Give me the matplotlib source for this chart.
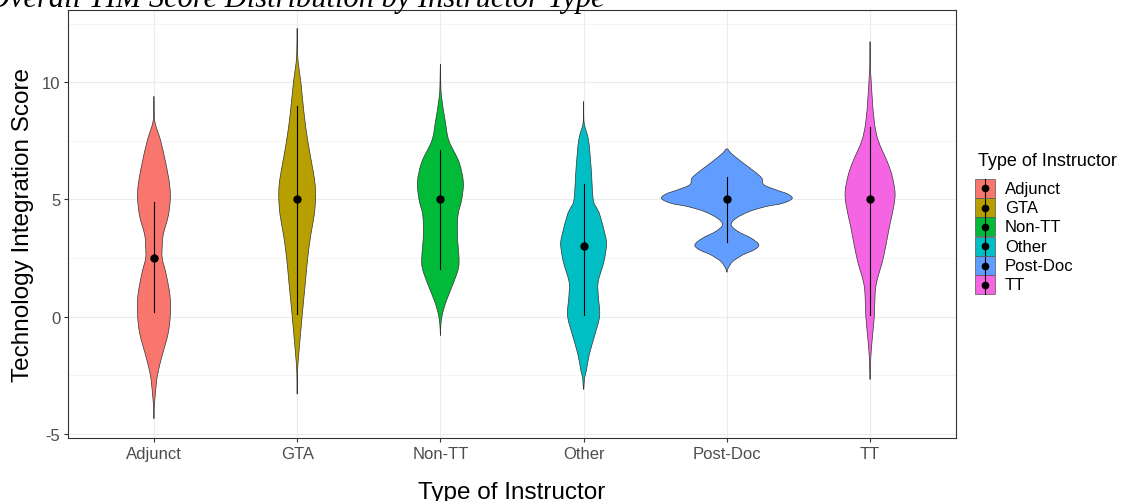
import numpy as np
import matplotlib.pyplot as plt
from matplotlib.path import Path
from matplotlib.patches import PathPatch, Rectangle
from matplotlib.lines import Line2D

plt.rcParams["font.family"] = ["Liberation Sans", "DejaVu Sans"]
plt.rcParams["axes.unicode_minus"] = False

instructor_types = ["Adjunct", "GTA", "Non-TT", "Other", "Post-Doc", "TT"]
fill_colors = ["#F8766D", "#B79F00", "#00BA38", "#00BFC4", "#619CFF", "#F564E3"]

# violin outlines: score level and half width (in category units), top to bottom
adjunct_y = [9.4, 8.9, 8.3, 7.5, 6.6, 6.0, 5.5, 5.0, 4.3, 3.5, 3.0, 2.5, 1.8, 0.9, 0.05, -0.75, -1.6, -2.45, -3.15, -3.9, -4.35]
adjunct_w = [0, .002, .007, .047, .081, .100, .112, .114, .100, .065, .058, .058, .086, .112, .114, .098, .060, .026, .012, .002, 0]

gta_y = [12.3, 11.5, 10.85, 10.0, 8.73, 7.5, 6.3, 5.6, 5.0, 4.33, 3.48, 2.52, 1.5, 0.05, -1.05, -1.9, -2.46, -3.3]
gta_w = [0, .002, .007, .026, .047, .074, .109, .126, .128, .119, .095, .074, .058, .035, .019, .007, .002, 0]

nontt_y = [10.78, 10.2, 9.43, 8.3, 7.5, 6.6, 5.75, 5.0, 4.33, 3.48, 2.52, 2.07, 1.5, 0.65, 0.05, -0.48, -0.8]
nontt_w = [0, .002, .007, .035, .060, .130, .160, .149, .123, .119, .130, .126, .095, .040, .012, .002, 0]

other_y = [9.18, 8.5, 8.16, 7.5, 6.3, 5.0, 4.62, 4.33, 3.48, 3.06, 2.35, 1.5, 0.93, 0.05, -0.76, -1.6, -2.3, -2.6, -3.1]
other_w = [0, .001, .007, .035, .053, .067, .093, .114, .151, .160, .142, .102, .102, .112, .079, .040, .019, .007, 0]

postdoc_y = [7.16, 6.97, 6.62, 6.19, 5.91, 5.63, 5.41, 5.23, 5.04, 4.84, 4.70, 4.49, 4.20, 3.92, 3.64, 3.35, 3.07, 2.86, 2.64, 2.36, 2.07, 1.90]
postdoc_w = [0, .030, .100, .193, .244, .258, .344, .426, .456, .391, .274, .158, .065, .030, .077, .170, .223, .193, .112, .042, .009, 0]

tt_y = [11.73, 10.7, 10.14, 9.43, 8.3, 7.5, 6.6, 6.03, 5.33, 4.76, 3.77, 2.52, 1.5, 0.93, 0.05, -0.9, -1.75, -2.68]
tt_w = [0, .002, .007, .014, .030, .058, .121, .153, .174, .167, .133, .093, .047, .035, .030, .016, .005, 0]

violin_y = [adjunct_y, gta_y, nontt_y, other_y, postdoc_y, tt_y]
violin_w = [adjunct_w, gta_w, nontt_w, other_w, postdoc_w, tt_w]

# summary point and range for each group
centre = [2.5, 5.0, 5.0, 3.0, 5.0, 5.0]
range_low = [0.2, 0.1, 2.05, 0.08, 3.2, 0.08]
range_high = [4.9, 9.0, 7.1, 5.65, 5.95, 8.1]


def smooth_outline(xs, ys):
    # closed Catmull-Rom curve through the outline points
    pts = np.column_stack([xs, ys])
    n = len(pts)
    verts = [pts[0]]
    codes = [Path.MOVETO]
    for i in range(n):
        p0 = pts[i - 1]
        p1 = pts[i]
        p2 = pts[(i + 1) % n]
        p3 = pts[(i + 2) % n]
        verts += [p1 + (p2 - p0) / 6, p2 - (p3 - p1) / 6, p2]
        codes += [Path.CURVE4] * 3
    return Path(verts, codes)


fig = plt.figure(figsize=(11.25, 5.02), dpi=100)
ax = fig.add_axes([68 / 1125, 1 - 439 / 502, 888 / 1125, 428 / 502])

for i, name in enumerate(instructor_types):
    ys = np.array(violin_y[i])
    ws = np.array(violin_w[i])
    xs_right = i + ws
    xs_left = i - ws
    out_x = np.concatenate([xs_right, xs_left[-2:0:-1]])
    out_y = np.concatenate([ys, ys[-2:0:-1]])
    patch = PathPatch(
        smooth_outline(out_x, out_y),
        facecolor=fill_colors[i],
        edgecolor="#333333",
        linewidth=0.5,
        zorder=2
    )
    ax.add_patch(patch)

    ax.plot([i, i], [range_low[i], range_high[i]], color="black", linewidth=0.8, zorder=3)
    ax.plot([i], [centre[i]], marker="o", color="black", markersize=5, zorder=4)

ax.set_xlim(-0.6, 5.6)
ax.set_ylim(-5.17, 13.08)
ax.set_xticks(range(len(instructor_types)))
ax.set_xticklabels(instructor_types)
ax.set_yticks([-5, 0, 5, 10])
ax.set_yticks([-2.5, 2.5, 7.5, 12.5], minor=True)

ax.grid(which="major", color="#EBEBEB", linewidth=0.8, zorder=0)
ax.grid(which="minor", axis="y", color="#F2F2F2", linewidth=0.6, zorder=0)
ax.set_axisbelow(True)

for spine in ax.spines.values():
    spine.set_color("#333333")
    spine.set_linewidth(0.8)

ax.tick_params(which="major", length=3, width=0.8, color="#333333", labelcolor="#4D4D4D", labelsize=12, pad=2.5)
ax.tick_params(which="minor", length=0)

fig.text(23 / 1125, 1 - 225 / 502, "Technology Integration Score", rotation=90,
         ha="center", va="center", fontsize=17.5, color="black")
fig.text(512 / 1125, 1 - 499 / 502, "Type of Instructor", ha="center", va="baseline",
         fontsize=17.5, color="black")

fig.text(-12 / 1125, 1 - 7 / 502, "Overall TIM Score Distribution by Instructor Type",
         ha="left", va="baseline", fontsize=22, style="italic",
         family=["Liberation Serif", "DejaVu Serif"])

# legend
fig.text(978 / 1125, 1 - 162 / 502, "Type of Instructor", ha="left", va="center", fontsize=13)
for i, name in enumerate(instructor_types):
    cy = 189.3 + 19.3 * i
    fig.add_artist(Rectangle((975 / 1125, 1 - (cy + 9.5) / 502), 20 / 1125, 19 / 502,
                             transform=fig.transFigure, facecolor=fill_colors[i],
                             edgecolor="#555555", linewidth=0.5))
    fig.add_artist(Line2D([985 / 1125, 985 / 1125], [1 - (cy - 9) / 502, 1 - (cy + 9) / 502],
                          transform=fig.transFigure, color="black", linewidth=0.8))
    fig.add_artist(Line2D([985 / 1125], [1 - cy / 502], transform=fig.transFigure,
                          marker="o", color="black", markersize=4.5))
    fig.text(1005 / 1125, 1 - cy / 502, name, ha="left", va="center", fontsize=12)

fig.savefig("out.png", dpi=100)
plt.close(fig)
